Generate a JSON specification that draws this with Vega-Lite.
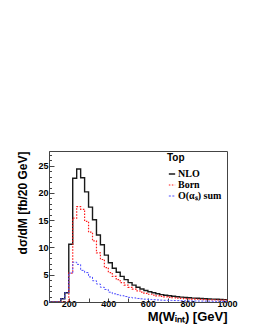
{
  "$schema": "https://vega.github.io/schema/vega-lite/v6.json",
  "autosize": "none",
  "width": 178,
  "height": 151,
  "padding": {"left": 49, "top": 151, "right": 28, "bottom": 28},
  "background": "white",
  "config": {
    "view": {"stroke": "#444", "strokeWidth": 1},
    "axis": {"domainColor": "#444", "tickColor": "#444", "grid": false,
      "labelFont": "Liberation Sans", "labelFontWeight": "bold", "labelFontSize": 9, "labelColor": "black",
      "titleFont": "Liberation Sans", "titleFontWeight": "bold", "titleColor": "black"}
  },
  "data": {"values": [
    {"m":100,"s":"NLO","v":0},{"m":120,"s":"NLO","v":0},{"m":140,"s":"NLO","v":0},{"m":160,"s":"NLO","v":0.6},{"m":180,"s":"NLO","v":1.7},
    {"m":200,"s":"NLO","v":10.6},{"m":220,"s":"NLO","v":22.7},{"m":240,"s":"NLO","v":24.4},{"m":260,"s":"NLO","v":22.8},{"m":280,"s":"NLO","v":20.2},
    {"m":300,"s":"NLO","v":17.4},{"m":320,"s":"NLO","v":15.1},{"m":340,"s":"NLO","v":12.3},{"m":360,"s":"NLO","v":10.5},{"m":380,"s":"NLO","v":8.6},
    {"m":400,"s":"NLO","v":7.2},{"m":420,"s":"NLO","v":6.2},{"m":440,"s":"NLO","v":5.45},{"m":460,"s":"NLO","v":4.7},{"m":480,"s":"NLO","v":4.1},
    {"m":500,"s":"NLO","v":3.55},{"m":520,"s":"NLO","v":3.1},{"m":540,"s":"NLO","v":2.7},{"m":560,"s":"NLO","v":2.38},{"m":580,"s":"NLO","v":2.12},
    {"m":600,"s":"NLO","v":1.89},{"m":620,"s":"NLO","v":1.69},{"m":640,"s":"NLO","v":1.52},{"m":660,"s":"NLO","v":1.36},{"m":680,"s":"NLO","v":1.23},
    {"m":700,"s":"NLO","v":1.15},{"m":720,"s":"NLO","v":1.05},{"m":740,"s":"NLO","v":0.97},{"m":760,"s":"NLO","v":0.9},{"m":780,"s":"NLO","v":0.83},
    {"m":800,"s":"NLO","v":0.77},{"m":820,"s":"NLO","v":0.72},{"m":840,"s":"NLO","v":0.68},{"m":860,"s":"NLO","v":0.64},{"m":880,"s":"NLO","v":0.6},
    {"m":900,"s":"NLO","v":0.56},{"m":920,"s":"NLO","v":0.53},{"m":940,"s":"NLO","v":0.5},{"m":960,"s":"NLO","v":0.47},{"m":980,"s":"NLO","v":0.44},{"m":1000,"s":"NLO","v":0.44},

    {"m":100,"s":"Born","v":0},{"m":120,"s":"Born","v":0},{"m":140,"s":"Born","v":0},{"m":160,"s":"Born","v":0},{"m":180,"s":"Born","v":0},
    {"m":200,"s":"Born","v":5.3},{"m":220,"s":"Born","v":15.4},{"m":240,"s":"Born","v":17.5},{"m":260,"s":"Born","v":17.0},{"m":280,"s":"Born","v":14.8},
    {"m":300,"s":"Born","v":12.8},{"m":320,"s":"Born","v":11.2},{"m":340,"s":"Born","v":9.0},{"m":360,"s":"Born","v":7.8},{"m":380,"s":"Born","v":6.3},
    {"m":400,"s":"Born","v":5.4},{"m":420,"s":"Born","v":4.7},{"m":440,"s":"Born","v":4.1},{"m":460,"s":"Born","v":3.55},{"m":480,"s":"Born","v":3.1},
    {"m":500,"s":"Born","v":2.7},{"m":520,"s":"Born","v":2.35},{"m":540,"s":"Born","v":2.05},{"m":560,"s":"Born","v":1.8},{"m":580,"s":"Born","v":1.6},
    {"m":600,"s":"Born","v":1.42},{"m":620,"s":"Born","v":1.27},{"m":640,"s":"Born","v":1.14},{"m":660,"s":"Born","v":1.02},{"m":680,"s":"Born","v":0.93},
    {"m":700,"s":"Born","v":0.86},{"m":720,"s":"Born","v":0.78},{"m":740,"s":"Born","v":0.72},{"m":760,"s":"Born","v":0.67},{"m":780,"s":"Born","v":0.62},
    {"m":800,"s":"Born","v":0.57},{"m":820,"s":"Born","v":0.53},{"m":840,"s":"Born","v":0.5},{"m":860,"s":"Born","v":0.47},{"m":880,"s":"Born","v":0.44},
    {"m":900,"s":"Born","v":0.41},{"m":920,"s":"Born","v":0.39},{"m":940,"s":"Born","v":0.37},{"m":960,"s":"Born","v":0.35},{"m":980,"s":"Born","v":0.33},{"m":1000,"s":"Born","v":0.33},

    {"m":100,"s":"O(αₛ) sum","v":0},{"m":120,"s":"O(αₛ) sum","v":0},{"m":140,"s":"O(αₛ) sum","v":0},{"m":160,"s":"O(αₛ) sum","v":0.6},{"m":180,"s":"O(αₛ) sum","v":1.7},
    {"m":200,"s":"O(αₛ) sum","v":5.3},{"m":220,"s":"O(αₛ) sum","v":7.3},{"m":240,"s":"O(αₛ) sum","v":6.9},{"m":260,"s":"O(αₛ) sum","v":5.8},{"m":280,"s":"O(αₛ) sum","v":5.4},
    {"m":300,"s":"O(αₛ) sum","v":4.6},{"m":320,"s":"O(αₛ) sum","v":3.9},{"m":340,"s":"O(αₛ) sum","v":3.3},{"m":360,"s":"O(αₛ) sum","v":2.7},{"m":380,"s":"O(αₛ) sum","v":2.3},
    {"m":400,"s":"O(αₛ) sum","v":1.8},{"m":420,"s":"O(αₛ) sum","v":1.5},{"m":440,"s":"O(αₛ) sum","v":1.35},{"m":460,"s":"O(αₛ) sum","v":1.15},{"m":480,"s":"O(αₛ) sum","v":1.0},
    {"m":500,"s":"O(αₛ) sum","v":0.85},{"m":520,"s":"O(αₛ) sum","v":0.75},{"m":540,"s":"O(αₛ) sum","v":0.65},{"m":560,"s":"O(αₛ) sum","v":0.58},{"m":580,"s":"O(αₛ) sum","v":0.52},
    {"m":600,"s":"O(αₛ) sum","v":0.47},{"m":620,"s":"O(αₛ) sum","v":0.42},{"m":640,"s":"O(αₛ) sum","v":0.38},{"m":660,"s":"O(αₛ) sum","v":0.34},{"m":680,"s":"O(αₛ) sum","v":0.31},
    {"m":700,"s":"O(αₛ) sum","v":0.29},{"m":720,"s":"O(αₛ) sum","v":0.27},{"m":740,"s":"O(αₛ) sum","v":0.25},{"m":760,"s":"O(αₛ) sum","v":0.23},{"m":780,"s":"O(αₛ) sum","v":0.21},
    {"m":800,"s":"O(αₛ) sum","v":0.2},{"m":820,"s":"O(αₛ) sum","v":0.19},{"m":840,"s":"O(αₛ) sum","v":0.18},{"m":860,"s":"O(αₛ) sum","v":0.17},{"m":880,"s":"O(αₛ) sum","v":0.16},
    {"m":900,"s":"O(αₛ) sum","v":0.15},{"m":920,"s":"O(αₛ) sum","v":0.14},{"m":940,"s":"O(αₛ) sum","v":0.13},{"m":960,"s":"O(αₛ) sum","v":0.12},{"m":980,"s":"O(αₛ) sum","v":0.11},{"m":1000,"s":"O(αₛ) sum","v":0.11}
  ]},
  "mark": {"type": "line", "interpolate": "step-after", "clip": true},
  "encoding": {
    "x": {"field": "m", "type": "quantitative",
      "scale": {"domain": [100, 1000], "nice": false, "zero": false},
      "axis": {"values": [100,200,300,400,500,600,700,800,900,1000],
        "format": "d",
        "labelExpr": "datum.value % 200 === 0 ? datum.label : ''",
        "tickSize": -4, "labelPadding": 1, "labelFlush": false,
        "title": "M(Wᵢₙₜ) [GeV]", "titleFontSize": 13, "titleAnchor": "end", "titlePadding": 2}},
    "y": {"field": "v", "type": "quantitative",
      "scale": {"domain": [0, 27.7], "nice": false},
      "axis": {"values": [0,1,2,3,4,5,6,7,8,9,10,11,12,13,14,15,16,17,18,19,20,21,22,23,24,25,26,27],
        "labelExpr": "datum.value % 5 === 0 ? datum.label : ''",
        "tickSize": {"condition": {"test": "datum.value % 5 === 0", "value": -5}, "value": -2.5},
        "labelPadding": 6, "labelFlush": false,
        "title": "dσ/dM [fb/20 GeV]", "titleFontSize": 12, "titleAnchor": "end", "titlePadding": 8}},
    "color": {"field": "s", "type": "nominal",
      "scale": {"domain": ["NLO", "Born", "O(αₛ) sum"], "range": ["#1a1a1a", "#ff1a1a", "#4d4dff"]},
      "legend": {"orient": "none", "legendX": 118, "legendY": 2, "title": "Top",
        "titleFont": "Liberation Sans", "titleFontWeight": "bold", "titleFontSize": 10, "titleColor": "black", "titlePadding": 6,
        "labelFont": "Liberation Serif", "labelFontWeight": "bold", "labelFontSize": 10, "labelColor": "black", "labelOffset": 1,
        "symbolType": "stroke", "symbolSize": 40, "symbolStrokeWidth": 1, "rowPadding": 1, "padding": 0}},
    "strokeDash": {"field": "s", "type": "nominal",
      "scale": {"domain": ["NLO", "Born", "O(αₛ) sum"], "range": [[1, 0], [1.5, 1.5], [2, 1.5]]}},
    "strokeWidth": {"field": "s", "type": "nominal",
      "scale": {"domain": ["NLO", "Born", "O(αₛ) sum"], "range": [1.4, 1, 1]}, "legend": null}
  }
}
